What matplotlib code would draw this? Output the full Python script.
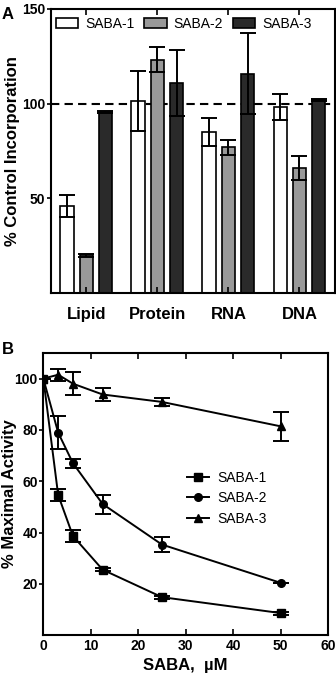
import numpy as np
import matplotlib
matplotlib.use("Agg")
import matplotlib.pyplot as plt

plt.rcParams['font.family'] = ['Liberation Sans', 'DejaVu Sans']

# panel A: % control incorporation
categories = ["Lipid", "Protein", "RNA", "DNA"]
bar_series = ["SABA-1", "SABA-2", "SABA-3"]
bar_values = [
    [46, 101.4, 85.1, 98.1],
    [20, 123.2, 77, 66],
    [95.5, 110.7, 115.8, 101.8],
]
bar_errors = [
    [5.6, 16, 7.3, 7],
    [0.7, 6.5, 4, 6.5],
    [0.6, 17.5, 21.3, 0.6],
]

# panel B: % maximal activity vs SABA concentration
conc = [0, 3.125, 6.25, 12.5, 25, 50]
line_series = ["SABA-1", "SABA-2", "SABA-3"]
line_values = [
    [100, 54.6, 38.6, 25.5, 14.8, 8.6],
    [100, 78.9, 67, 51.1, 35.3, 20.4],
    [100, 101.5, 98, 93.8, 90.9, 81.4],
]
line_errors = [
    [0, 2.5, 2.2, 0.6, 0.6, 0.6],
    [0, 6.5, 1.8, 3.7, 3, 0],
    [0, 2.3, 4.4, 2.5, 1.5, 5.7],
]

bar_colors = ["white", "#999999", "#2a2a2a"]
markers = ["s", "o", "^"]

fig = plt.figure(figsize=(3.36, 6.8), dpi=100)

# ---- panel A ----
ax1 = fig.add_axes([0.151, 0.569, 0.846, 0.418])
x = np.arange(len(categories))
width = 0.19
offset = 0.27
for i, name in enumerate(bar_series):
    ax1.bar(x + (i - 1) * offset, bar_values[i], width, color=bar_colors[i],
            edgecolor="black", linewidth=1.2, label=name,
            yerr=bar_errors[i], capsize=6,
            error_kw=dict(elinewidth=1.4, capthick=1.4, ecolor="black"))
ax1.axhline(100, color="black", linestyle=(0, (4, 2.5)), linewidth=1.5, zorder=0.5)
ax1.set_xlim(-0.5, 3.5)
ax1.set_ylim(0, 150)
ax1.set_yticks([50, 100, 150])
ax1.set_xticks(x)
ax1.set_xticklabels(categories, fontsize=12, fontweight="bold")
ax1.tick_params(axis="x", direction="in", top=True, length=4, width=1.2, pad=10)
ax1.tick_params(axis="y", direction="out", length=3, width=1.2, labelsize=10, pad=1)
for lab in ax1.get_yticklabels():
    lab.set_fontweight("bold")
ax1.set_ylabel("% Control Incorporation", fontsize=12, fontweight="bold")
ax1.yaxis.set_label_coords(-0.108, 0.5)
for sp in ax1.spines.values():
    sp.set_linewidth(1.5)
ax1.legend(loc="upper left", ncol=3, frameon=False, fontsize=10,
           handlelength=1.6, handleheight=0.7, columnspacing=0.7,
           handletextpad=0.5, borderaxespad=0.2, bbox_to_anchor=(-0.01, 1.0))
fig.text(0.005, 0.99, "A", fontsize=12, fontweight="bold", va="top")

# ---- panel B ----
ax2 = fig.add_axes([0.129, 0.066, 0.847, 0.415])
for i, name in enumerate(line_series):
    ax2.plot(conc, line_values[i], color="black", marker=markers[i],
             markersize=5.5, linewidth=1.4, label=name)
    ax2.errorbar(conc, line_values[i], yerr=line_errors[i], fmt="none",
                 ecolor="black", elinewidth=1.4, capsize=6, capthick=1.4)
ax2.set_xlim(0, 60)
ax2.set_ylim(0, 110)
ax2.set_xticks(range(0, 61, 10))
ax2.set_yticks([20, 40, 60, 80, 100])
ax2.tick_params(axis="y", direction="out", length=3, width=1.2, labelsize=10, pad=1)
ax2.tick_params(axis="x", direction="in", top=True, length=4, width=1.2,
                labelsize=10, pad=3)
for lab in ax2.get_xticklabels() + ax2.get_yticklabels():
    lab.set_fontweight("bold")
ax2.set_xlabel("SABA,  \u00b5M", fontsize=12, fontweight="bold")
ax2.xaxis.set_label_coords(0.5, -0.082)
ax2.set_ylabel("% Maximal Activity", fontsize=12, fontweight="bold")
ax2.yaxis.set_label_coords(-0.092, 0.5)
for sp in ax2.spines.values():
    sp.set_linewidth(1.5)
ax2.legend(loc="center left", bbox_to_anchor=(0.46, 0.485), frameon=False,
           fontsize=10, handlelength=1.6, handletextpad=0.6, labelspacing=0.45)
fig.text(0.005, 0.497, "B", fontsize=12, fontweight="bold", va="top")

fig.savefig("out.png", dpi=100)
